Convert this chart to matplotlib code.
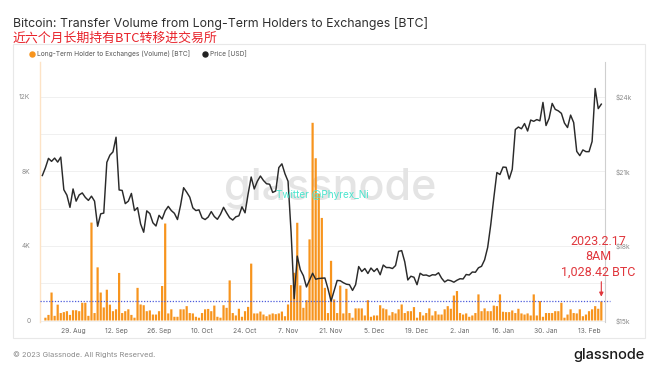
import matplotlib
matplotlib.use("Agg")
import matplotlib.pyplot as plt
from matplotlib.lines import Line2D
from matplotlib.patches import Rectangle
import pandas as pd

# ---------------- data ----------------
volume_start = "2022-08-20"
volume_btc = [
    150, 300, 1500, 250, 850, 400, 450, 500, 300, 550, 550, 500, 950, 950, 250, 5250,
    400, 2850, 1500, 700, 1650, 850, 500, 600, 2550, 400, 500, 600, 300, 150, 1750,
    860, 820, 500, 540, 320, 320, 500, 1850, 5200, 380, 600, 200, 200, 600, 600, 770,
    400, 380, 200, 150, 400, 600, 620, 500, 800, 200, 150, 820, 680, 2150, 400,
    270, 630, 200, 500, 730, 3050, 380, 380, 480, 320, 230, 320, 380, 340, 380, 480,
    230, 860, 1900, 2560, 5240, 1880, 680, 1090, 4350, 10600, 8700, 6800, 5500, 1750,
    400, 3200, 1130, 400, 1870,
    380, 1700, 400, 150, 650, 650, 650, 270, 1090, 200, 270, 270, 820, 650, 600, 270,
    450, 380, 600, 860, 400, 500, 500, 720, 150, 450, 270, 400, 650, 270, 500,
    320, 320, 600, 770, 630, 1340, 1580, 400, 320, 380, 200, 270, 400, 1400, 500, 650,
    500, 500, 800, 770, 1400, 470, 450, 450, 540, 400, 630, 380, 320, 380, 270, 1400,
    270, 1040, 200, 400, 400, 400, 500, 500, 950, 150, 320, 600, 400, 380, 600, 230,
    320, 500, 600, 770, 630, 1028.42,
]

price_start = "2022-08-19"
price_usd = [
    # Aug 19-31
    20830, 21140, 21520, 21400, 21530, 21370, 21570, 20260, 20040, 19550, 20290, 19800, 20050,
    # Sep
    20130, 19950, 19830, 20000, 19800, 18790, 19290, 19320, 21360, 21650, 21780, 22370, 20250,
    20230, 19700, 19800, 20110, 19420, 19540, 18880, 18550, 19410, 19300, 18930, 18800, 19230,
    19080, 19410, 19590, 19420,
    # Oct
    19310, 19060, 19630, 20340, 20160, 19960, 19530, 19420, 19450, 19130, 19060, 19160, 19380,
    19180, 19070, 19270, 19550, 19330, 19130, 19040, 19170, 19210, 19570, 19330, 20090, 20770,
    20290, 20600, 20810, 20630, 20500,
    # Nov
    20480, 20150, 20210, 21150, 21300, 20900, 20600, 18540, 15880, 17590, 17040, 16800, 16350,
    16620, 16900, 16660, 16690, 16700, 16710, 16280, 15780, 16190, 16610, 16600, 16520, 16460,
    16440, 16210, 16440, 17170,
    # Dec
    16970, 17090, 16890, 17110, 16970, 17090, 16840, 17230, 17130, 17130, 17090, 17210, 17780,
    17810, 17360, 16630, 16780, 16740, 16440, 16900, 16820, 16830, 16780, 16840, 16830, 16920,
    16700, 16550, 16630, 16600, 16540,
    # Jan
    16620, 16680, 16670, 16850, 16830, 16950, 16940, 17120, 17180, 17440, 17940, 18850, 19930,
    20950, 20870, 21170, 21160, 20690, 21080, 22680, 22780, 22710, 22920, 22620, 23060, 23010,
    23080, 23030, 23770, 22840, 23130,
    # Feb 1-17
    23730, 23490, 23430, 23330, 22940, 22760, 23260, 22960, 21800, 21630, 21860, 21790, 21790,
    22200, 24330, 23520, 23700,
]

x_tick_dates = ["2022-08-29", "2022-09-12", "2022-09-26", "2022-10-10", "2022-10-24",
                "2022-11-07", "2022-11-21", "2022-12-05", "2022-12-19", "2023-01-02",
                "2023-01-16", "2023-01-30", "2023-02-13"]
x_tick_labels = ["29. Aug", "12. Sep", "26. Sep", "10. Oct", "24. Oct", "7. Nov", "21. Nov",
                 "5. Dec", "19. Dec", "2. Jan", "16. Jan", "30. Jan", "13. Feb"]
left_ticks = [0, 4000, 8000, 12000]
left_tick_labels = ["0", "4K", "8K", "12K"]
right_ticks = [15000, 18000, 21000, 24000]
right_tick_labels = ["$15k", "$18k", "$21k", "$24k"]

title = "Bitcoin: Transfer Volume from Long-Term Holders to Exchanges [BTC]"
subtitle = "近六个月长期持有BTC转移进交易所"
legend_labels = ["Long-Term Holder to Exchanges (Volume) [BTC]", "Price [USD]"]
annotation = "2023.2.17\n8AM\n1,028.42 BTC"
last_value = volume_btc[-1]

# ---------------- figure ----------------
W, H = 660, 372
fig = plt.figure(figsize=(W / 100, H / 100), dpi=100)
fig.patch.set_facecolor("white")
FONT = ["Inter", "DejaVu Sans"]

def fx(px):
    return px / W

def fy(py):
    return 1 - py / H

# card border
fig.add_artist(Rectangle((fx(13), fy(338)), fx(645) - fx(13), fy(44) - fy(338),
                         transform=fig.transFigure, facecolor="none",
                         edgecolor="#e8e8e8", lw=0.8))

ax_l, ax_r, ax_t, ax_b = 40, 605, 62, 322
ax = fig.add_axes([fx(ax_l), fy(ax_b), fx(ax_r) - fx(ax_l), fy(ax_t) - fy(ax_b)])
ax2 = ax.twinx()

vdates = pd.date_range(volume_start, periods=len(volume_btc), freq="D")
pdates = pd.date_range(price_start, periods=len(price_usd), freq="D")

ORANGE = "#f7941d"
ax.bar(vdates, volume_btc, width=0.72, color=ORANGE, linewidth=0, snap=False, zorder=2)
ax2.plot(pdates, price_usd, color="#2a2a2a", lw=1.05, zorder=3)

# limits: 0 volume and $15k share a baseline
ax.set_ylim(-80, 13860)
ax2.set_ylim(15000 - 80 * 0.75, 15000 + 13860 * 0.75)
xl = pd.Timestamp(volume_start) - pd.Timedelta(days=1.76)
xr = pd.Timestamp(volume_start) + pd.Timedelta(days=182.2)
ax.set_xlim(xl, xr)

# gridlines every 2K
for g in range(0, 13000, 2000):
    ax.axhline(g, color="#eeeeee", lw=0.6, zorder=0)

ax.set_yticks(left_ticks)
ax.set_yticklabels(left_tick_labels)
ax2.set_yticks(right_ticks)
ax2.set_yticklabels(right_tick_labels)
ax.set_xticks(pd.to_datetime(x_tick_dates))
ax.set_xticklabels(x_tick_labels)

for a in (ax, ax2):
    a.tick_params(length=0, labelsize=4.8, labelcolor="#8a8a8a")
    for lab in a.get_xticklabels() + a.get_yticklabels():
        lab.set_family(FONT)
ax.tick_params(axis="y", pad=7)
ax2.tick_params(axis="y", pad=8)
ax.tick_params(axis="x", pad=4, labelcolor="#666666")

for a in (ax, ax2):
    for s in ("top", "bottom", "left", "right"):
        a.spines[s].set_visible(False)
ax.spines["left"].set_visible(True)
ax.spines["left"].set_color("#fde3c6")
ax.spines["left"].set_linewidth(1.0)
ax2.spines["right"].set_visible(True)
ax2.spines["right"].set_color("#cfcfcf")
ax2.spines["right"].set_linewidth(0.8)
ax.set_facecolor("none")
ax2.set_facecolor("none")

# dotted reference line at the last value
ax.axhline(last_value, xmin=0, xmax=1.009, color="#4b5bdc", lw=0.9,
           linestyle=(0, (1, 1.3)), zorder=4, clip_on=False)

# watermark
ax.text(0.513, 0.515, "glassnode", transform=ax.transAxes, ha="center", va="center",
        fontsize=31, color="#e4e4e4", family=FONT, fontweight="medium", zorder=1)
ax2.text(0.50, 0.49, "Twitter @Phyrex_Ni", transform=ax.transAxes, ha="center",
         va="center", fontsize=7.2, color="#4de6cf", family=FONT, zorder=5)

# annotation
ax2.text(0.9876, 0.25, annotation, transform=ax.transAxes, ha="center", va="center",
         fontsize=9.0, color="#e0363c", family=["Roboto", "DejaVu Sans"],
         linespacing=1.25, zorder=6, clip_on=False)
ax.annotate("", xy=(vdates[-1], last_value + 250), xytext=(vdates[-1], 2080),
            arrowprops=dict(arrowstyle="-|>", color="#e0363c", lw=0.8,
                            mutation_scale=6, shrinkA=0, shrinkB=0),
            zorder=6, annotation_clip=False)

# title and subtitle
fig.text(fx(13), fy(27), title, ha="left", va="baseline", fontsize=8.9,
         color="#2f2f2f", family=FONT)
fig.text(fx(13), fy(42), subtitle, ha="left", va="baseline", fontsize=9.3,
         color="#e8222a", family=["Noto Sans CJK SC", "DejaVu Sans"])

# legend
fig.add_artist(Line2D([fx(32)], [fy(54)], marker="o", markersize=3.6, color=ORANGE,
                      lw=0, transform=fig.transFigure))
fig.text(fx(37), fy(54), legend_labels[0], ha="left", va="center", fontsize=4.75,
         color="#555555", family=FONT)
fig.add_artist(Line2D([fx(205)], [fy(54)], marker="o", markersize=3.6, color="#222222",
                      lw=0, transform=fig.transFigure))
fig.text(fx(210), fy(54), legend_labels[1], ha="left", va="center", fontsize=4.75,
         color="#555555", family=FONT)

# footer
fig.text(fx(13), fy(355), "© 2023 Glassnode. All Rights Reserved.", ha="left",
         va="center", fontsize=5.4, color="#8a8a8a", family=FONT)
fig.text(fx(645), fy(355), "glassnode", ha="right", va="center", fontsize=10.5,
         color="#1a1a1a", family=FONT, fontweight="medium")

fig.savefig("out.png", dpi=100, facecolor="white")
